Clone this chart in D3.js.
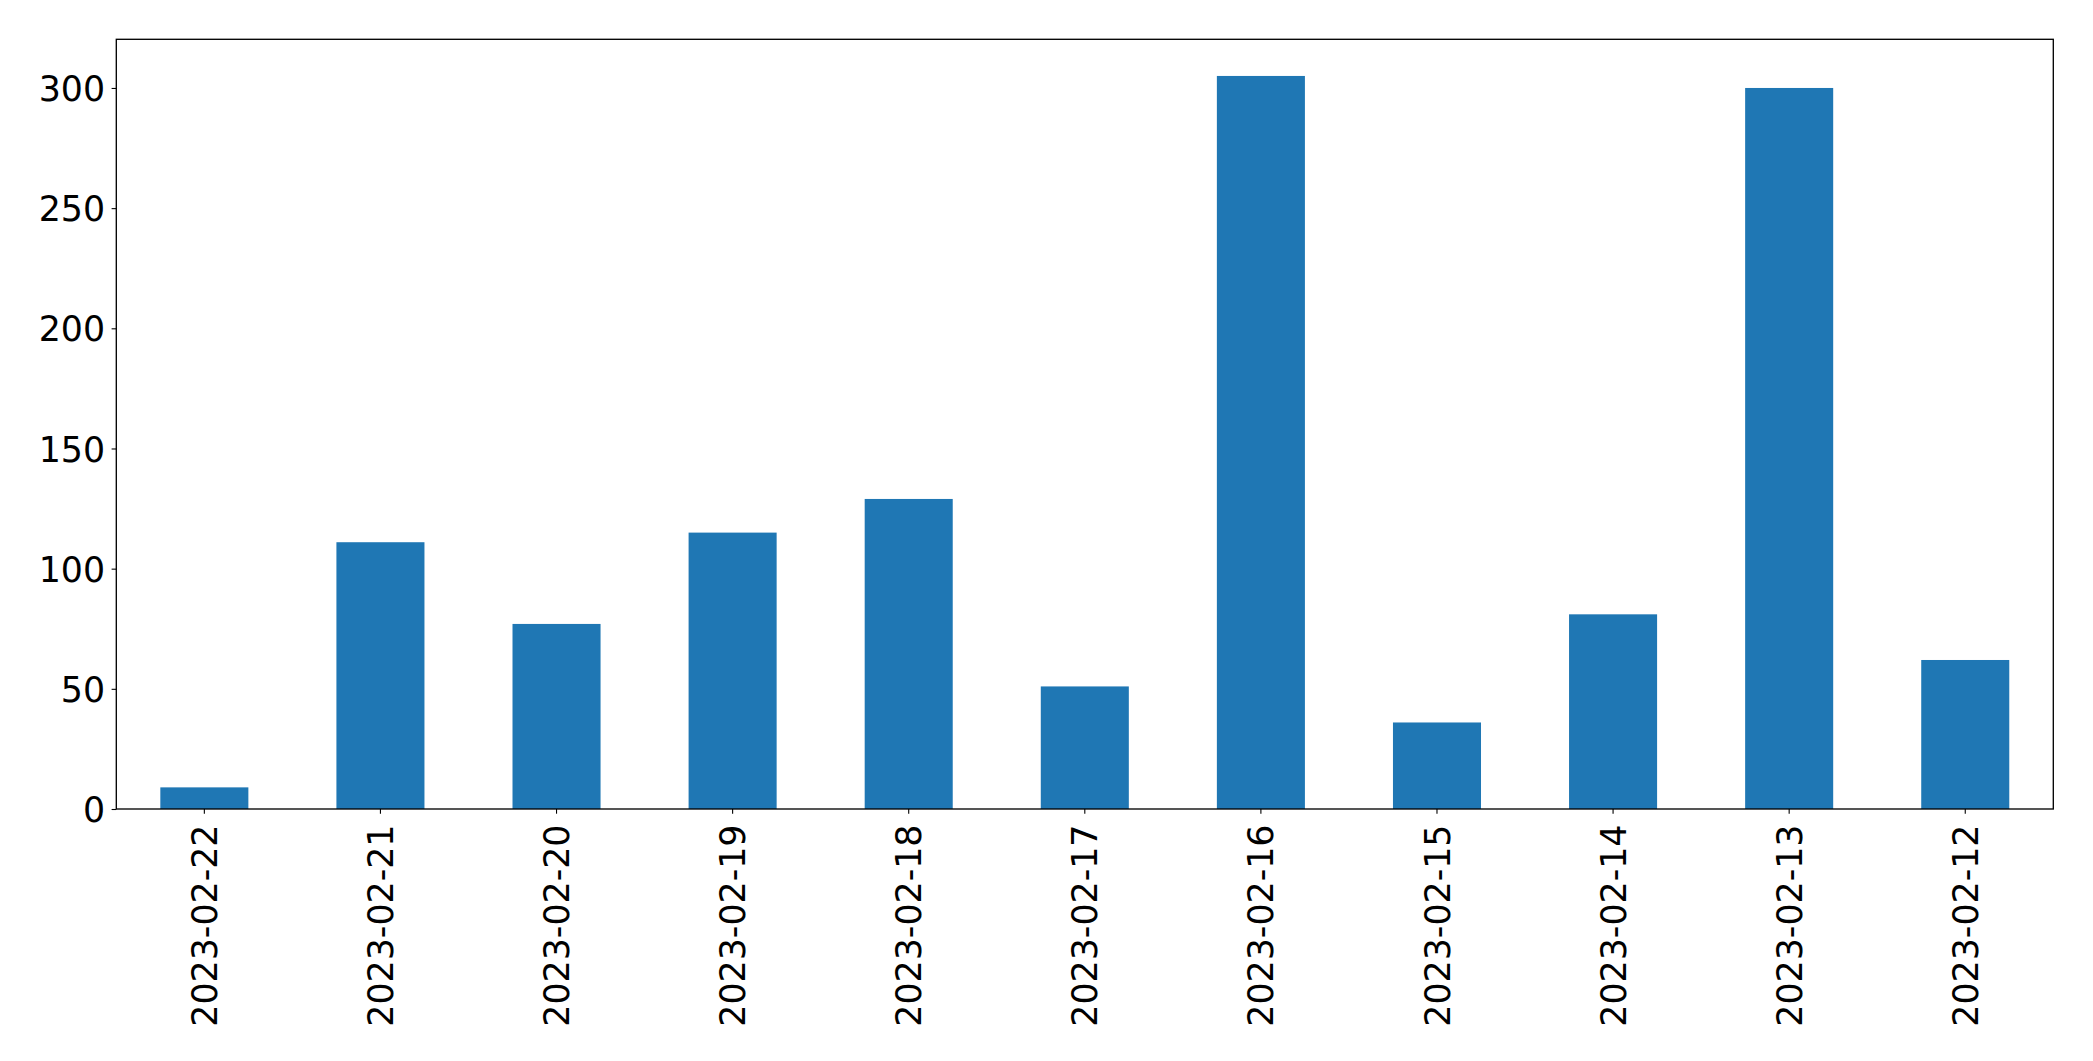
<!DOCTYPE html>
<html>
<head>
<meta charset="utf-8">
<script src="https://cdn.jsdelivr.net/npm/d3@7"></script>
<style>
  body { margin: 0; background: #fff; }
  .axis text { font-family: "DejaVu Sans", sans-serif; font-size: 34.8px; fill: #000; }
  .axis path { display: none; }
  .axis line { stroke: #000; stroke-width: 1.1; }
</style>
</head>
<body>
<script>
// dates, in the order they are plotted
var dates = ["2023-02-22", "2023-02-21", "2023-02-20", "2023-02-19", "2023-02-18",
             "2023-02-17", "2023-02-16", "2023-02-15", "2023-02-14", "2023-02-13", "2023-02-12"];
// counts per day
var counts = [9, 111, 77, 115, 129, 51, 305, 36, 81, 300, 62];
var yTicks = [0, 50, 100, 150, 200, 250, 300];

// Settings
var w = 2093;
var h = 1061;
var pLeft = 116.3, pRight = 2053.3, pTop = 39.3, pBottom = 809;

var svg = d3.select("body")
            .append("svg")
            .attr("width", w)
            .attr("height", h);

var xScale = d3.scaleBand()
               .domain(dates)
               .range([pLeft, pRight])
               .paddingInner(0.5)
               .paddingOuter(0.25);

var yScale = d3.scaleLinear()
               .domain([0, d3.max(counts) * 1.05])  // matplotlib style margin
               .range([pBottom, pTop]);

// bars
svg.selectAll("rect.bar")
   .data(counts)
   .enter()
   .append("rect")
   .attr("class", "bar")
   .attr("x", function(d, i) { return xScale(dates[i]); })
   .attr("y", function(d) { return yScale(d); })
   .attr("width", xScale.bandwidth())
   .attr("height", function(d) { return pBottom - yScale(d); })
   .attr("fill", "#1f77b4");

// axes
var xAxis = d3.axisBottom(xScale).tickSize(4.7).tickPadding(4.7);
var yAxis = d3.axisLeft(yScale).tickValues(yTicks).tickSize(4.7).tickPadding(6.5);

svg.append("g")
   .attr("class", "axis")
   .attr("transform", "translate(0," + pBottom + ")")
   .call(xAxis)
   .selectAll("text")
   .attr("transform", "rotate(-90)")
   .attr("text-anchor", "end")
   .attr("x", -15.5)
   .attr("y", 0)
   .attr("dy", "0.36em");

svg.append("g")
   .attr("class", "axis")
   .attr("transform", "translate(" + pLeft + ",0)")
   .call(yAxis)
   .selectAll("text")
   .attr("dy", "0.36em");

// frame
svg.append("rect")
   .attr("x", pLeft)
   .attr("y", pTop)
   .attr("width", pRight - pLeft)
   .attr("height", pBottom - pTop)
   .attr("fill", "none")
   .attr("stroke", "#000")
   .attr("stroke-width", 1.33);
</script>
</body>
</html>
